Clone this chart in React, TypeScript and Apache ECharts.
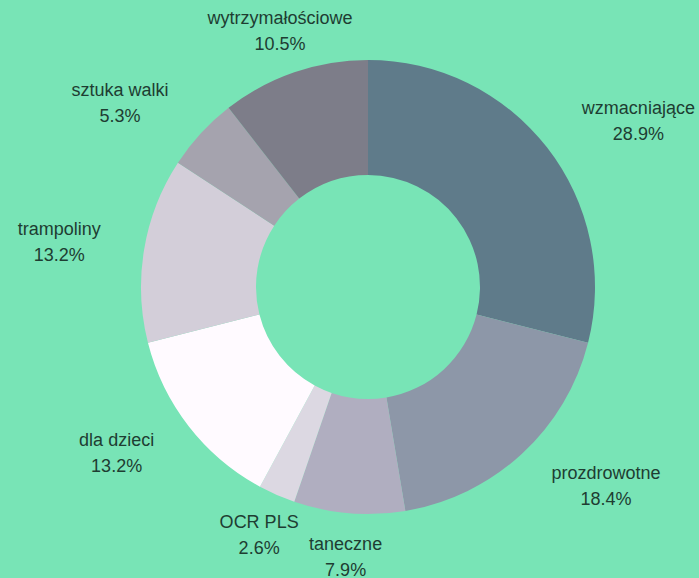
import React, { useEffect, useRef } from "react";
import * as echarts from "echarts";

const categories = [
  "wzmacniające",
  "prozdrowotne",
  "taneczne",
  "OCR PLS",
  "dla dzieci",
  "trampoliny",
  "sztuka walki",
  "wytrzymałościowe",
];
const counts = [11, 7, 3, 1, 5, 5, 2, 4];

const palette = [
  "#5f7b8a",
  "#8d97a8",
  "#b0aec0",
  "#dcd8e2",
  "#fffaff",
  "#d3ced9",
  "#a5a3ae",
  "#7d7d89",
];

export default function App() {
  const ref = useRef<HTMLDivElement>(null);

  useEffect(() => {
    document.body.style.margin = "0";
    const chart = echarts.init(ref.current!, null, { renderer: "svg" });
    const cx = 368;
    const cy = 287;
    const labelR = 271;
    const total = counts.reduce((a, b) => a + b, 0);

    chart.setOption({
      animation: false,
      backgroundColor: "#78e4b6",
      color: palette,
      series: [
        {
          type: "pie",
          center: [cx, cy],
          radius: [112, 227],
          startAngle: 90,
          clockwise: true,
          avoidLabelOverlap: false,
          percentPrecision: 1,
          itemStyle: { borderWidth: 0 },
          label: {
            show: true,
            position: "outside",
            formatter: "{b}\n{d}%",
            color: "#1e3d32",
            fontFamily: "Liberation Sans, Arial, sans-serif",
            fontSize: 18,
            lineHeight: 26,
          },
          labelLine: { show: false },
          labelLayout: (params: any) => {
            const i = params.dataIndex;
            let before = 0;
            for (let j = 0; j < i; j++) before += counts[j];
            const mid = ((before + counts[i] / 2) / total) * Math.PI * 2;
            const dx = Math.sin(mid);
            const dy = -Math.cos(mid);
            const ax = cx + labelR * dx;
            const ay = cy + labelR * dy;
            const w = params.labelRect.width;
            const x = Math.abs(dx) > 0.6 ? ax + Math.sign(dx) * (w / 2) : ax;
            return { x, y: ay, align: "center", verticalAlign: "middle" };
          },
          emphasis: { disabled: true },
          data: categories.map((name, i) => ({ name, value: counts[i] })),
        },
      ],
    });

    return () => chart.dispose();
  }, []);

  return (
    <div
      ref={ref}
      style={{ position: "fixed", left: 0, top: 0, width: 699, height: 578 }}
    />
  );
}
